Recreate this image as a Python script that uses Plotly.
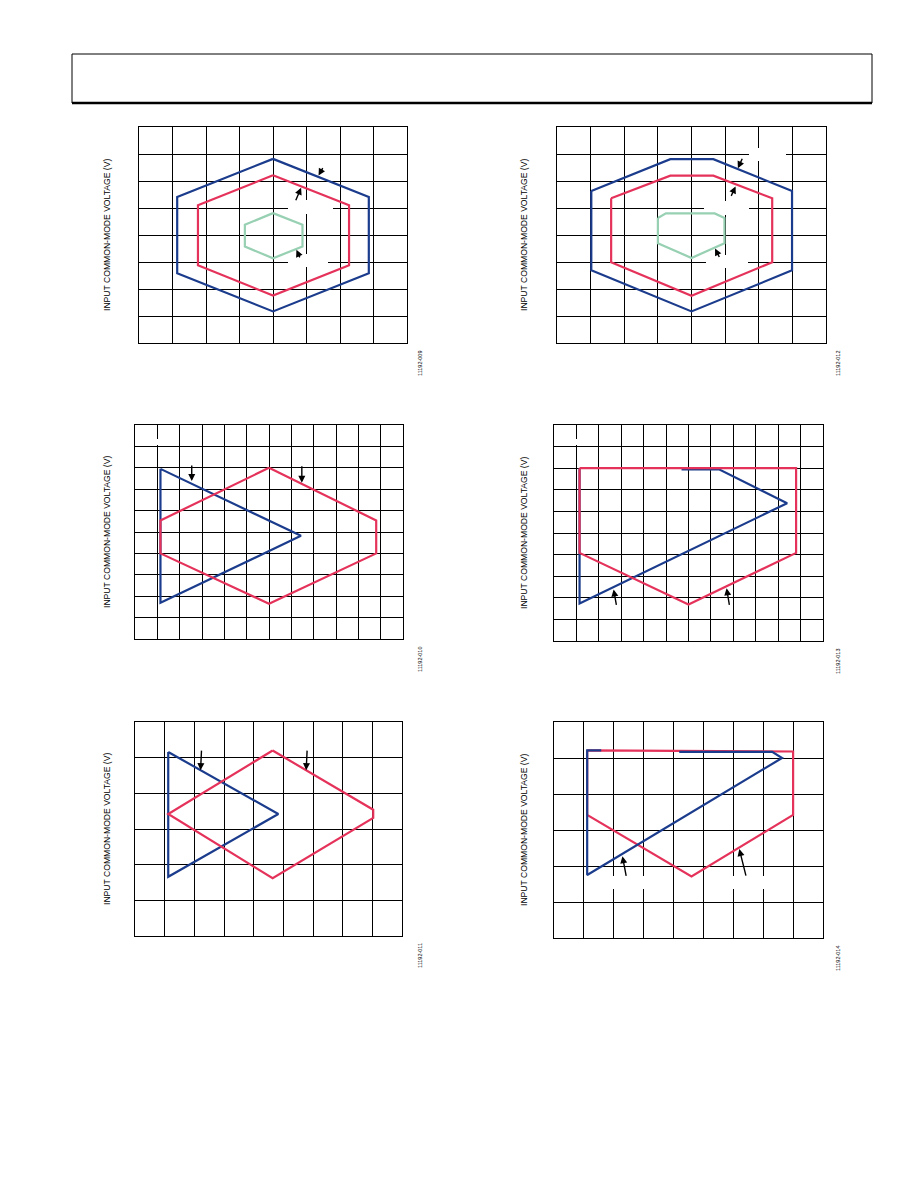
import plotly.graph_objects as go

W, H = 910, 1180   # figure size (page body adds an 8px margin)
OFF = 8

# ---------------- data (grid units) ----------------
# Plot 1 (top-left) : three supply levels
p1_blue_x = [4.0, 6.86, 6.86, 4.0, 1.14, 1.14, 4.0]
p1_blue_y = [6.82, 5.41, 2.58, 1.17, 2.58, 5.41, 6.82]
p1_red_x = [4.0, 6.27, 6.27, 4.0, 1.76, 1.76, 4.0]
p1_red_y = [6.21, 5.10, 2.88, 1.76, 2.88, 5.10, 6.21]
p1_green_x = [4.0, 4.88, 4.88, 4.0, 3.16, 3.16, 4.0]
p1_green_y = [4.81, 4.38, 3.57, 3.14, 3.57, 4.38, 4.81]

# Plot 2 (top-right)
p2_blue_x = [1.02, 3.37, 4.65, 6.99, 6.99, 4.0, 1.02, 1.02]
p2_blue_y = [5.63, 6.81, 6.81, 5.63, 2.69, 1.17, 2.69, 5.63]
p2_red_x = [1.61, 3.37, 4.65, 6.40, 6.40, 4.0, 1.61, 1.61]
p2_red_y = [5.36, 6.20, 6.20, 5.36, 2.99, 1.75, 2.99, 5.36]
p2_green_x = [3.0, 3.24, 4.69, 4.98, 4.98, 4.0, 3.0, 3.0]
p2_green_y = [4.63, 4.80, 4.80, 4.63, 3.69, 3.15, 3.69, 4.63]

# Plot 3 (middle-left)
p3_blue_x = [1.14, 7.43, 1.14, 1.14]
p3_blue_y = [7.95, 4.82, 1.69, 7.95]
p3_red_x = [6.0, 10.8, 10.8, 6.0, 1.14, 1.14, 6.0]
p3_red_y = [8.0, 5.54, 4.0, 1.65, 4.0, 5.54, 8.0]

# Plot 4 (middle-right)
p4_blue_x = [5.69, 7.36, 10.4, 1.14, 1.14]
p4_blue_y = [7.95, 7.95, 6.38, 1.74, 8.0]
p4_red_x = [1.14, 10.8, 10.8, 6.0, 1.14, 1.14]
p4_red_y = [8.0, 8.0, 4.08, 1.69, 4.08, 8.0]

# Plot 5 (bottom-left)
p5_blue_x = [1.12, 4.83, 1.12, 1.12]
p5_blue_y = [5.16, 3.42, 1.66, 5.16]
p5_red_x = [4.64, 8.03, 8.03, 4.64, 1.12, 4.64]
p5_red_y = [5.20, 3.54, 3.31, 1.62, 3.42, 5.20]

# Plot 6 (bottom-right)
p6_red_x = [1.11, 8.0, 8.0, 4.6, 1.11, 1.11]
p6_red_y = [5.21, 5.18, 3.42, 1.71, 3.42, 5.21]
p6_blue_x = [4.19, 7.30, 7.63, 1.11, 1.11, 1.58]
p6_blue_y = [5.17, 5.17, 5.0, 1.75, 5.21, 5.21]

fig_ids = ["11192-009", "11192-012", "11192-010", "11192-013", "11192-011", "11192-014"]
y_title = "INPUT COMMON-MODE VOLTAGE (V)"

# ---------------- layout geometry (page pixels) ----------------
panels = [
    dict(x0=139, x1=407, y0=127, y1=343, nx=8, ny=8),
    dict(x0=557, x1=826, y0=127, y1=343, nx=8, ny=8),
    dict(x0=135, x1=403, y0=425, y1=639, nx=12, ny=10),
    dict(x0=554, x1=823, y0=425, y1=641, nx=12, ny=10),
    dict(x0=135, x1=402, y0=722, y1=936, nx=9, ny=6),
    dict(x0=554, x1=823, y0=722, y1=938, nx=9, ny=6),
]

# white label boxes (panel index, page-pixel box) hiding the grid behind blank labels
label_boxes = [
    (0, 288, 333, 200, 214), (0, 288, 328, 254, 267),
    (1, 704, 749, 201, 215), (1, 706, 748, 255, 268), (1, 749, 786, 148, 161),
    (2, 155, 160, 439, 445), (3, 574, 579, 439, 445),
    (5, 603, 655, 876, 889), (5, 722, 775, 876, 889),
]


def fx(px):
    return (px - OFF) / W


def fy(py):
    return 1 - (py - OFF) / H


BLUE = "#1b3c8c"
RED = "#e5325a"
GREEN = "#97d0b2"

series = [
    [(p1_blue_x, p1_blue_y, BLUE), (p1_red_x, p1_red_y, RED), (p1_green_x, p1_green_y, GREEN)],
    [(p2_blue_x, p2_blue_y, BLUE), (p2_red_x, p2_red_y, RED), (p2_green_x, p2_green_y, GREEN)],
    [(p3_blue_x, p3_blue_y, BLUE), (p3_red_x, p3_red_y, RED)],
    [(p4_blue_x, p4_blue_y, BLUE), (p4_red_x, p4_red_y, RED)],
    [(p5_blue_x, p5_blue_y, BLUE), (p5_red_x, p5_red_y, RED)],
    [(p6_red_x, p6_red_y, RED), (p6_blue_x, p6_blue_y, BLUE)],
]

# arrow heads (data coords) and tail offsets (pixels)
arrows = [
    [(5.36, 6.20, 5, -9), (4.84, 5.75, -6, 14), (4.70, 3.45, 4, 9)],
    [(5.38, 6.47, 5, -11), (5.31, 5.80, -5, 11), (4.70, 3.50, 5, 10)],
    [(2.54, 7.38, 0, -17), (7.47, 7.30, 0, -18)],
    [(2.66, 2.39, 3, 17), (7.70, 2.44, 3, 18)],
    [(2.21, 4.65, 1, -21), (5.77, 4.65, 1, -21)],
    [(2.29, 2.27, 4, 21), (6.20, 2.47, 7, 28)],
]

fig = go.Figure()
annotations = []
shapes = []


def refs(i):
    n = i + 1
    return ("x" if n == 1 else f"x{n}"), ("y" if n == 1 else f"y{n}")


for i, p in enumerate(panels):
    n = i + 1
    xa = "xaxis" if n == 1 else f"xaxis{n}"
    ya = "yaxis" if n == 1 else f"yaxis{n}"
    xr, yr = refs(i)
    fig.layout[xa] = dict(
        domain=[fx(p["x0"]), fx(p["x1"])], range=[0, p["nx"]], dtick=1, tick0=0,
        showgrid=True, gridcolor="black", gridwidth=1, zeroline=False,
        showline=True, linecolor="black", linewidth=1, mirror=True,
        showticklabels=False, ticks="", anchor=yr, fixedrange=True)
    fig.layout[ya] = dict(
        domain=[fy(p["y1"]), fy(p["y0"])], range=[0, p["ny"]], dtick=1, tick0=0,
        showgrid=True, gridcolor="black", gridwidth=1, zeroline=False,
        showline=True, linecolor="black", linewidth=1, mirror=True,
        showticklabels=False, ticks="", anchor=xr, fixedrange=True)
    for sx, sy, col in series[i]:
        fig.add_trace(go.Scatter(x=sx, y=sy, mode="lines", xaxis=xr, yaxis=yr,
                                 line=dict(color=col, width=2.2), showlegend=False,
                                 hoverinfo="skip"))
    for hx, hy, ax, ay in arrows[i]:
        annotations.append(dict(x=hx, y=hy, xref=xr, yref=yr, ax=ax, ay=ay,
                                text="", showarrow=True, arrowhead=2, arrowsize=1,
                                arrowwidth=1.4, arrowcolor="black"))
    # y-axis title
    tx = 107 if i % 2 == 0 else 524
    annotations.append(dict(x=fx(tx), y=fy((p["y0"] + p["y1"]) / 2), xref="paper", yref="paper",
                            text=y_title, textangle=-90, showarrow=False,
                            font=dict(family="Liberation Sans, Arial", size=8.6, color="#000000"),
                            xanchor="center", yanchor="middle"))
    # figure id
    idx = 420 if i % 2 == 0 else 838
    annotations.append(dict(x=fx(idx), y=fy(p["y1"] + 20), xref="paper", yref="paper",
                            text=fig_ids[i], textangle=-90, showarrow=False,
                            font=dict(family="Liberation Sans, Arial", size=5.5, color="#000000"),
                            xanchor="center", yanchor="middle"))

# label boxes: axis-referenced, drawn between grid and traces
for k, bx0, bx1, by0, by1 in label_boxes:
    p = panels[k]
    xr, yr = refs(k)
    sx = p["nx"] / (p["x1"] - p["x0"])
    sy = p["ny"] / (p["y1"] - p["y0"])
    shapes.append(dict(type="rect", xref=xr, yref=yr, layer="between",
                       x0=(bx0 - p["x0"]) * sx, x1=(bx1 - p["x0"]) * sx,
                       y0=p["ny"] - (by1 - p["y0"]) * sy, y1=p["ny"] - (by0 - p["y0"]) * sy,
                       fillcolor="white", line=dict(width=0)))

# header box
shapes.append(dict(type="rect", xref="paper", yref="paper", x0=fx(72), x1=fx(872),
                   y0=fy(103), y1=fy(54), line=dict(color="black", width=1)))
shapes.append(dict(type="line", xref="paper", yref="paper", x0=fx(72), x1=fx(872),
                   y0=fy(103), y1=fy(103), line=dict(color="black", width=2.5)))

fig.update_layout(width=W, height=H, margin=dict(l=0, r=0, t=0, b=0),
                  paper_bgcolor="white", plot_bgcolor="white",
                  annotations=annotations, shapes=shapes, showlegend=False)
fig.write_html("out.html")
